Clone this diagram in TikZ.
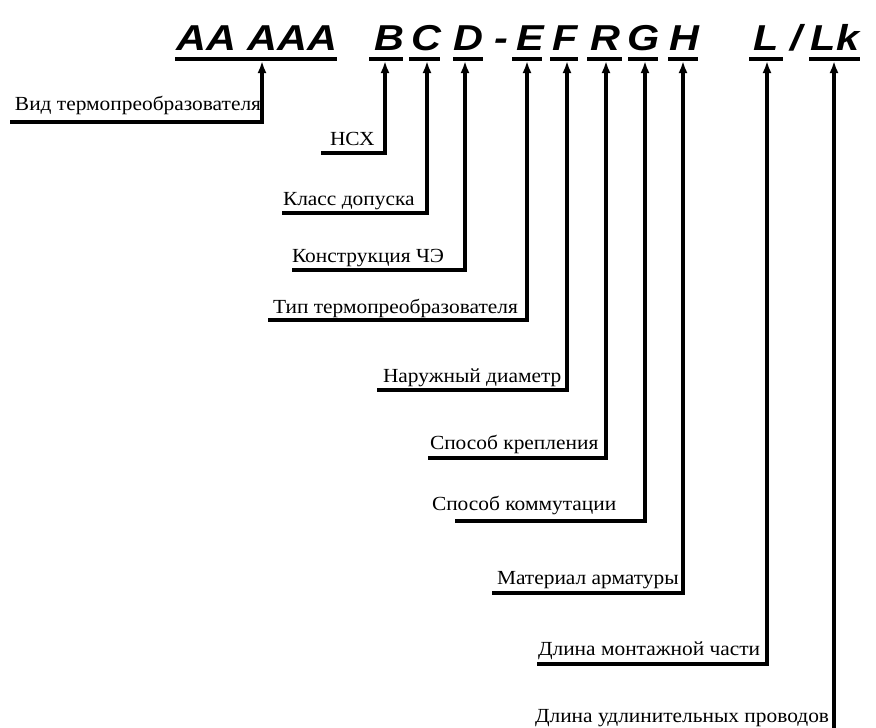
\documentclass[tikz,border=0pt]{standalone}
\usepackage{fontspec}
\setmainfont{Liberation Serif}
\newfontfamily\codefont{Liberation Sans}
\usetikzlibrary{arrows.meta}

\begin{document}
\begin{tikzpicture}
        [x=1pt, y=-1pt, every node/.style={inner sep=0, outer sep=0},
        kod/.style={font=\codefont\bfseries\itshape\fontsize{36}{36}\selectfont, anchor=base, xscale=1.15},
        lbl/.style={font=\fontsize{20}{20}\selectfont, anchor=base west, xscale=1.07},
        uline/.style={line width=3.2pt, black},
        conn/.style={line width=3.2pt, black, -{Latex[length=12pt,width=9pt]}}]

        \useasboundingbox (0,0) rectangle (876,728);

        % code letters
        \node[kod] (kA) at (257, 50) {AA AAA};
        \node[kod] (kB) at (389, 50) {B};
        \node[kod] (kC) at (426, 50) {C};
        \node[kod] (kD) at (468, 50) {D};
        \node[kod] (kdash) at (501, 50) {-};
        \node[kod] (kE) at (530, 50) {E};
        \node[kod] (kF) at (565, 50) {F};
        \node[kod] (kR) at (605, 50) {R};
        \node[kod] (kG) at (644, 50) {G};
        \node[kod] (kH) at (684, 50) {H};
        \node[kod] (kL) at (766, 50) {L};
        \node[kod] (kslash) at (796, 50) {/};
        \node[kod] (kLk) at (835, 50) {Lk};

        \draw[uline] (175, 59) -- (337, 59);
        \draw[uline] (369, 59) -- (403, 59);
        \draw[uline] (409, 59) -- (440, 59);
        \draw[uline] (453, 59) -- (483, 59);
        \draw[uline] (512, 59) -- (542, 59);
        \draw[uline] (550, 59) -- (578, 59);
        \draw[uline] (587, 59) -- (622, 59);
        \draw[uline] (628, 59) -- (658, 59);
        \draw[uline] (668, 59) -- (698, 59);
        \draw[uline] (749, 59) -- (783, 59);
        \draw[uline] (809, 59) -- (860, 59);

        \coordinate (uA) at (262, 61);
        \coordinate (uB) at (385, 61);
        \coordinate (uC) at (427, 61);
        \coordinate (uD) at (465, 61);
        \coordinate (uE) at (527, 61);
        \coordinate (uF) at (567, 61);
        \coordinate (uR) at (606, 61);
        \coordinate (uG) at (645, 61);
        \coordinate (uH) at (683, 61);
        \coordinate (uL) at (767, 61);
        \coordinate (uLk) at (834, 61);

        % labels
        \node[lbl] (vid) at (15, 110) {Вид термопреобразователя};
        \node[lbl] (nsh) at (330, 145) {НСХ};
        \node[lbl] (klass) at (283, 205) {Класс допуска};
        \node[lbl] (konstr) at (292, 262) {Конструкция ЧЭ};
        \node[lbl] (tip) at (273, 313) {Тип термопреобразователя};
        \node[lbl] (diam) at (383, 382) {Наружный диаметр};
        \node[lbl] (krepl) at (430, 449) {Способ крепления};
        \node[lbl] (komm) at (432, 510) {Способ коммутации};
        \node[lbl] (mat) at (497, 584) {Материал арматуры};
        \node[lbl] (lmont) at (538, 655) {Длина монтажной части};
        \node[lbl] (ludl) at (535, 722) {Длина удлинительных проводов};

        \coordinate (sVid) at (10, 122);
        \coordinate (sNsh) at (321, 153);
        \coordinate (sKlass) at (282, 213);
        \coordinate (sKonstr) at (292, 270);
        \coordinate (sTip) at (268, 320);
        \coordinate (sDiam) at (377, 390);
        \coordinate (sKrepl) at (428, 458);
        \coordinate (sKomm) at (455, 521);
        \coordinate (sMat) at (492, 593);
        \coordinate (sLmont) at (537, 664);
        \coordinate (sLudl) at (834, 732);

        \draw[conn] (sVid) -| (uA);
        \draw[conn] (sNsh) -| (uB);
        \draw[conn] (sKlass) -| (uC);
        \draw[conn] (sKonstr) -| (uD);
        \draw[conn] (sTip) -| (uE);
        \draw[conn] (sDiam) -| (uF);
        \draw[conn] (sKrepl) -| (uR);
        \draw[conn] (sKomm) -| (uG);
        \draw[conn] (sMat) -| (uH);
        \draw[conn] (sLmont) -| (uL);
        \draw[conn] (sLudl) -- (uLk);

      \end{tikzpicture}
\end{document}
